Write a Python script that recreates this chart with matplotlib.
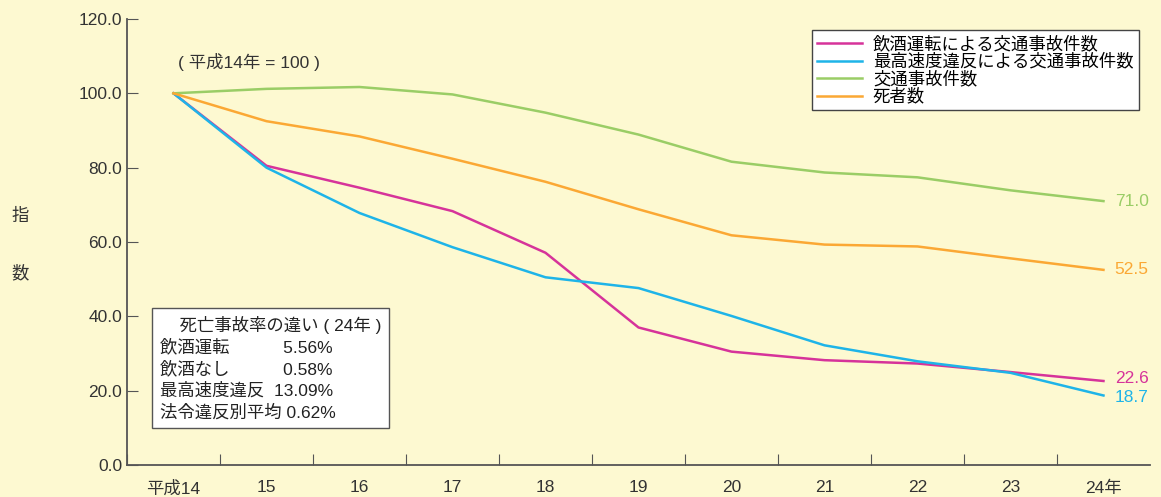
import matplotlib
matplotlib.use("Agg")
import matplotlib.pyplot as plt

plt.rcParams['font.family'] = ['Liberation Sans', 'Noto Sans CJK JP']

categories = ["平成14", "15", "16", "17", "18", "19", "20", "21", "22", "23", "24年"]
drink = [100, 80.5, 74.6, 68.3, 57.1, 37.0, 30.5, 28.2, 27.3, 25.0, 22.6]
speed = [100, 80.0, 67.8, 58.6, 50.5, 47.6, 40.1, 32.2, 27.9, 24.8, 18.7]
accidents = [100, 101.2, 101.7, 99.7, 94.8, 88.9, 81.6, 78.7, 77.4, 73.9, 71.0]
deaths = [100, 92.5, 88.4, 82.4, 76.2, 68.8, 61.8, 59.3, 58.8, 55.6, 52.5]
names = ["飲酒運転による交通事故件数", "最高速度違反による交通事故件数", "交通事故件数", "死者数"]
colors = ["#D6339A", "#1EB4E8", "#9ACD66", "#FBA834"]
yticks = [0, 20, 40, 60, 80, 100, 120]

bg = "#FDF9D1"
fs = 12.5
fig = plt.figure(figsize=(11.61, 4.97), dpi=100, facecolor=bg)
ax = fig.add_axes([0.1094, 0.0644, 0.8811, 0.8974], facecolor=bg)
x = list(range(len(categories)))
for s, c, n in zip([drink, speed, accidents, deaths], colors, names):
    ax.plot(x, s, color=c, lw=1.8, label=n)
for s, c, dy in [(accidents, colors[2], 0), (deaths, colors[3], 0), (drink, colors[0], 0.6), (speed, colors[1], -0.6)]:
    ax.text(10.12, s[-1] + dy, f"{s[-1]:.1f}", color=c, fontsize=fs, va='center', ha='left')

ax.set_xlim(-0.5, 10.5)
ax.set_ylim(0, 120)
ax.set_yticks(yticks)
ax.set_yticklabels([f"{v:.1f}" for v in yticks], fontsize=fs, color="#333333")
ax.set_xticks([i + 0.5 for i in range(-1, 10)])
ax.set_xticklabels([])
ax.set_xticks(x, minor=True)
ax.set_xticklabels(categories, minor=True, fontsize=fs, color="#333333")
ax.tick_params(axis='x', which='minor', length=0, pad=11)
ax.tick_params(axis='x', which='major', direction='in', length=8, color="#555555")
ax.tick_params(axis='y', direction='in', length=8, color="#555555")
for sp in ['top', 'right']:
    ax.spines[sp].set_visible(False)
for sp in ['left', 'bottom']:
    ax.spines[sp].set_color("#555555")
    ax.spines[sp].set_linewidth(1.3)

leg = ax.legend(loc='upper right', bbox_to_anchor=(0.9975, 0.995), fontsize=fs, frameon=True,
                fancybox=False, edgecolor="#444444", facecolor="white", framealpha=1,
                handlelength=2.6, borderpad=0.3, labelspacing=0.05, handletextpad=0.6)
leg.get_frame().set_linewidth(1.0)

ax.text(0.05, 108.5, "( 平成14年 = 100 )", fontsize=fs, color="#333333", va='center')

fig.text(0.017, 0.565, "指", fontsize=fs, color="#333333", ha='center', va='center')
fig.text(0.017, 0.45, "数", fontsize=fs, color="#333333", ha='center', va='center')

box = ("    死亡事故率の違い ( 24年 )\n"
       "飲酒運転           5.56%\n"
       "飲酒なし           0.58%\n"
       "最高速度違反  13.09%\n"
       "法令違反別平均 0.62%")
ax.text(-0.15, 40.2, box, fontsize=fs, color="#222222", va='top', ha='left', linespacing=1.38,
        bbox=dict(boxstyle='square,pad=0.45', facecolor='white', edgecolor='#555555', lw=1.0))

fig.savefig("out.png", dpi=100, facecolor=bg)
